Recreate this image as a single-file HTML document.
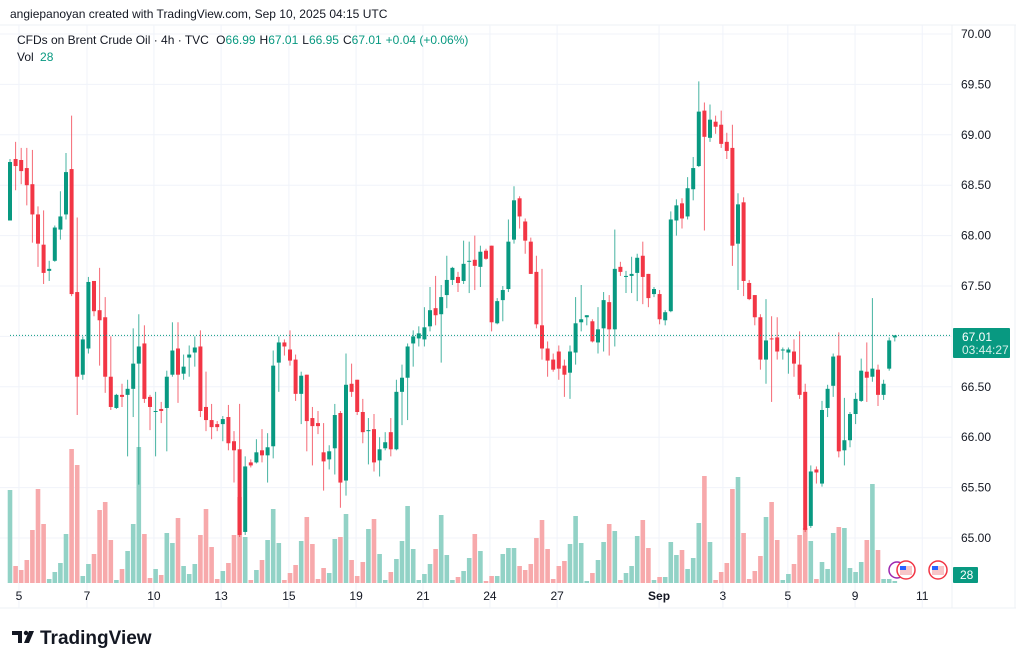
<!DOCTYPE html>
<html><head><meta charset="utf-8">
<style>
html,body{margin:0;padding:0;background:#fff;}
body{width:1024px;height:665px;overflow:hidden;position:relative;font-family:"Liberation Sans",sans-serif;}
svg{position:absolute;left:0;top:0;}
</style></head>
<body>
<svg id="chart" width="1024" height="665" viewBox="0 0 1024 665">
  <rect x="0" y="0" width="1024" height="665" fill="#ffffff"/>
  <line x1="0" y1="25" x2="1016" y2="25" stroke="#eef0f4" stroke-width="1"/>
  <line x1="952" y1="25" x2="952" y2="608" stroke="#eef0f4" stroke-width="1"/>
  <line x1="0" y1="608" x2="1016" y2="608" stroke="#eef0f4" stroke-width="1"/>
  <line x1="1015" y1="25" x2="1015" y2="608" stroke="#eef0f4" stroke-width="1"/>
  <g id="grid"></g>
  <g id="volumes"></g>
  <g id="candles"></g>
  <line id="lastline" x1="10" x2="952" stroke="#089981" stroke-width="1" stroke-dasharray="1,2"/>
  <g id="yaxis"></g>
  <g id="xaxis"></g>
  <text x="10" y="18" font-size="12" fill="#131722">angiepanoyan created with TradingView.com, Sep 10, 2025 04:15 UTC</text>
  <text x="17" y="44" font-size="12" fill="#131722">CFDs on Brent Crude Oil · 4h · TVC <tspan dx="4">O</tspan><tspan fill="#089981">66.99</tspan><tspan dx="4">H</tspan><tspan fill="#089981">67.01</tspan><tspan dx="4">L</tspan><tspan fill="#089981">66.95</tspan><tspan dx="4">C</tspan><tspan fill="#089981">67.01</tspan><tspan dx="4" fill="#089981">+0.04 (+0.06%)</tspan></text>
  <text x="17" y="61" font-size="12" fill="#131722">Vol <tspan dx="3" fill="#089981">28</tspan></text>
  <g>
    <rect x="953" y="328" width="57" height="30" fill="#089981" rx="1"/>
    <text x="962" y="341" font-size="12" fill="#ffffff">67.01</text>
    <text x="962" y="354" font-size="12" fill="#d8f0ea">03:44:27</text>
  </g>
  <g>
    <rect x="953" y="567" width="25" height="16" fill="#089981" rx="1"/>
    <text x="960" y="579" font-size="12" fill="#ffffff">28</text>
  </g>
  <g>
    <circle cx="897" cy="570" r="8" fill="#fff" stroke="#9c27b0" stroke-width="1.5"/>
    <circle cx="906" cy="570" r="9" fill="#fff" stroke="#f23645" stroke-width="1.5"/>
    <rect x="900" y="566" width="12" height="9" fill="#f7c6c8"/>
    <rect x="900" y="566" width="6" height="4" fill="#2962ff"/>
    <circle cx="938" cy="570" r="9" fill="#fff" stroke="#f23645" stroke-width="1.5"/>
    <rect x="932" y="566" width="12" height="9" fill="#f7c6c8"/>
    <rect x="932" y="566" width="6" height="4" fill="#2962ff"/>
  </g>
  <g>
    <path d="M12 631 h10 v12 h-4 v-8 h-6 z" fill="#131722"/>
    <circle cx="26" cy="633" r="2.2" fill="#131722"/>
    <path d="M29 631 h5 l-5 12 h-5 z" fill="#131722"/>
    <text x="40" y="644" font-size="19" font-weight="bold" fill="#131722">TradingView</text>
  </g>
</svg>
<script>
const opens =[68.15,68.76,68.75,68.67,68.51,68.21,67.91,67.65,67.75,68.06,68.21,68.66,67.44,66.62,66.88,67.55,67.26,67.19,66.60,66.29,66.42,66.42,66.48,66.73,66.93,66.40,66.25,66.28,66.29,66.62,66.88,66.63,66.79,66.84,66.90,66.30,66.17,66.13,66.13,66.20,65.96,65.88,65.06,65.75,65.75,65.87,65.82,65.91,66.74,66.94,66.87,66.77,66.43,66.62,66.19,66.14,65.85,65.78,65.89,66.24,65.57,66.53,66.57,66.25,66.06,66.08,65.77,65.89,66.05,65.88,66.45,66.59,66.93,66.98,66.97,67.10,67.28,67.22,67.41,67.56,67.59,67.55,67.74,67.76,67.69,67.85,67.90,67.13,67.36,67.47,67.96,68.37,68.14,67.94,67.64,67.11,66.88,66.77,66.85,66.71,66.64,66.84,67.14,67.19,67.15,66.94,67.08,67.34,67.07,67.69,67.59,67.60,67.63,67.80,67.62,67.42,67.42,67.16,67.25,68.15,68.32,68.19,68.46,68.69,69.24,68.97,69.13,69.10,68.93,68.87,67.92,68.33,67.53,67.41,67.19,66.77,66.98,66.99,66.87,66.84,66.85,66.72,66.45,65.12,65.68,65.54,66.29,66.51,66.81,65.87,65.97,66.23,66.36,66.65,66.60,66.67,66.42,66.68,66.99];
const highs =[68.76,68.93,68.87,68.87,68.85,68.29,68.25,67.75,68.10,68.44,68.82,69.19,68.18,67.00,67.59,67.55,67.68,67.39,67.00,66.43,66.53,66.57,67.08,67.22,67.11,66.42,66.45,66.35,66.66,67.14,67.14,66.82,66.91,67.00,67.06,66.65,66.33,66.16,66.21,66.32,66.06,66.33,65.81,65.78,65.98,66.08,66.04,66.86,67.00,66.97,67.06,66.82,66.65,66.62,66.30,66.26,66.14,65.92,66.33,66.26,66.83,66.73,66.57,66.38,66.19,66.23,66.00,66.05,66.19,66.57,66.72,66.93,67.06,67.10,67.29,67.49,67.60,67.51,67.80,67.69,67.64,67.95,67.94,68.00,67.90,67.87,67.90,67.38,67.50,68.16,68.49,68.39,68.17,67.98,67.80,67.67,66.95,66.83,66.91,66.77,66.91,67.39,67.51,67.21,67.17,67.29,67.44,67.41,68.06,67.74,67.65,67.79,67.82,67.94,67.62,67.49,67.46,67.26,68.24,68.36,68.37,68.58,68.78,69.53,69.32,69.30,69.19,69.24,69.02,69.10,68.42,68.38,67.56,67.41,67.22,67.37,67.20,67.19,66.89,66.89,66.97,67.05,66.53,65.72,65.71,66.36,66.52,66.83,67.04,66.39,66.25,66.44,66.78,66.94,67.38,66.72,66.57,66.99,67.01];
const lows  =[68.15,68.45,68.51,68.30,67.93,67.69,67.52,67.55,67.74,67.96,68.16,67.40,66.22,66.57,66.83,67.20,66.71,66.44,66.27,66.28,66.30,65.81,66.20,65.53,66.34,66.07,65.81,66.14,65.86,66.60,66.34,66.57,66.60,66.70,66.20,66.06,65.98,66.06,65.96,65.87,65.55,65.01,65.03,65.70,65.74,65.75,65.55,65.79,66.45,66.81,66.71,66.36,66.13,65.86,65.72,66.03,65.47,65.68,65.63,65.30,65.42,66.40,66.22,65.94,65.73,65.66,65.61,65.87,65.81,65.87,66.12,66.17,66.70,66.90,66.90,67.05,67.11,66.74,67.28,67.51,67.44,67.52,67.43,67.46,67.49,67.76,67.05,67.12,67.15,67.44,67.92,68.07,67.82,67.62,67.08,66.77,66.60,66.65,66.57,66.40,66.38,66.72,67.05,67.11,66.94,66.83,66.85,66.81,66.90,67.60,67.43,67.43,67.35,67.32,67.29,67.39,67.12,67.11,67.24,68.00,68.07,68.16,68.35,68.68,68.05,68.93,69.01,68.87,68.76,67.70,67.46,67.40,67.36,67.11,66.67,66.53,66.35,66.77,66.77,66.63,66.60,66.38,65.06,65.10,65.54,65.51,66.20,66.40,65.80,65.72,65.90,66.13,66.35,66.35,66.55,66.31,66.37,66.66,66.95];
const closes=[68.73,68.69,68.64,68.50,68.21,67.92,67.63,67.67,68.08,68.19,68.63,67.42,66.60,66.97,67.54,67.25,67.16,66.60,66.30,66.42,66.40,66.48,66.73,66.90,66.38,66.30,66.26,66.26,66.60,66.86,66.62,66.70,66.82,66.89,66.26,66.17,66.10,66.10,66.18,65.94,65.87,65.03,65.71,65.72,65.85,65.82,65.90,66.71,66.94,66.90,66.76,66.43,66.61,66.16,66.11,66.11,65.76,65.86,66.22,65.55,66.52,66.45,66.25,66.05,66.07,65.75,65.88,65.95,65.88,66.45,66.59,66.90,67.00,67.03,67.09,67.26,67.21,67.39,67.56,67.68,67.53,67.72,67.75,67.70,67.84,67.77,67.14,67.35,67.46,67.94,68.35,68.19,67.95,67.62,67.12,66.88,66.76,66.67,66.68,66.62,66.85,67.13,67.17,67.21,66.95,67.07,67.36,67.07,67.67,67.64,67.60,67.62,67.78,67.59,67.38,67.47,67.17,67.24,68.16,68.30,68.17,68.47,68.67,69.23,68.98,69.15,69.08,68.91,68.84,67.90,68.31,67.55,67.37,67.19,66.77,66.96,66.97,66.85,66.87,66.87,66.73,66.42,65.08,65.66,65.65,66.27,66.48,66.80,65.86,65.97,66.23,66.38,66.66,66.59,66.68,66.42,66.53,66.96,67.01];
const volumes=[93,17,13,23,53,94,59,4,11,20,49,134,118,7,19,29,73,81,43,3,14,32,59,136,49,5,14,8,50,40,65,17,9,19,48,74,36,4,12,20,48,86,46,3,13,23,43,74,40,3,10,18,42,66,39,4,15,10,44,46,69,23,7,21,54,64,29,3,11,24,42,77,34,3,9,19,34,68,28,3,6,12,25,49,32,2,7,7,29,35,35,17,13,19,45,63,34,4,17,22,39,67,40,2,10,23,41,59,52,3,10,17,47,63,35,3,6,6,41,28,33,14,25,60,107,41,3,11,20,94,106,50,4,12,27,66,81,43,3,9,19,48,55,42,4,21,14,50,56,55,15,11,21,43,99,33,4,4,2];
const priceTicks=[65.0,65.5,66.0,66.5,67.0,67.5,68.0,68.5,69.0,69.5,70.0];
const timeTickLabels=["5","7","10","13","15","19","21","24","27","Sep","3","5","9","11"];
const timeTickIndex=[1.6,13.75,25.7,37.7,49.8,61.8,73.75,85.7,97.7,115.9,127.3,138.9,150.9,162.9];
const lastPrice=67.01;

const NS="http://www.w3.org/2000/svg";
const X0=10, STEP=5.6, VOLBASE=583, VOLSCALE=1.0;
function xScale(i){return X0+STEP*i;}
function yScale(p){return 34+(70-p)*100.8;}
function vScale(v){return v*VOLSCALE;}
function mk(tag,attrs,parent){const e=document.createElementNS(NS,tag);for(const k in attrs)e.setAttribute(k,attrs[k]);parent.appendChild(e);return e;}

const grid=document.getElementById('grid');
priceTicks.forEach(p=>{
  const l=mk('line',{x1:0,x2:952,y1:yScale(p),y2:yScale(p),stroke:'#f0f3fa','stroke-width':1},grid);
  
  
});
timeTickIndex.forEach(t=>{
  const l=mk('line',{x1:xScale(t),x2:xScale(t),y1:25,y2:608,stroke:'#f0f3fa','stroke-width':1},grid);
  
  
});

const vg=document.getElementById('volumes');
volumes.forEach((v,i)=>{
  const up=closes[i]>=opens[i];
  const h=vScale(v);
  const r=mk('rect',{x:xScale(i)-2.3,y:VOLBASE-h,width:4.6,height:h,fill:up?'#92d2c6':'#f7a9ab'},vg);
  
  
});

const cg=document.getElementById('candles');
opens.forEach((o,i)=>{
  const c=closes[i],up=c>=o,col=up?'#089981':'#f23645',x=xScale(i);
  const g=mk('g',{},cg);
  
  
  mk('line',{x1:x,x2:x,y1:yScale(highs[i]),y2:yScale(lows[i]),stroke:col,'stroke-width':1,'stroke-opacity':0.75},g);
  const top=yScale(Math.max(o,c)),bot=yScale(Math.min(o,c));
  mk('rect',{x:x-2,y:top,width:4,height:Math.max(1,bot-top),fill:col},g);
});

const ll=document.getElementById('lastline');
ll.setAttribute('y1',yScale(lastPrice));ll.setAttribute('y2',yScale(lastPrice));

const ya=document.getElementById('yaxis');
priceTicks.forEach(p=>{
  const t=mk('text',{x:961,y:yScale(p)+4,'font-size':12,fill:'#131722'},ya);
  t.textContent=p.toFixed(2);
  
  
});
const xa=document.getElementById('xaxis');
timeTickLabels.forEach((s,k)=>{
  const t=mk('text',{x:xScale(timeTickIndex[k]),y:600,'font-size':12,fill:'#131722','text-anchor':'middle','font-weight':s==='Sep'?'bold':'normal'},xa);
  t.textContent=s;
  
  
});
</script>
</body></html>
